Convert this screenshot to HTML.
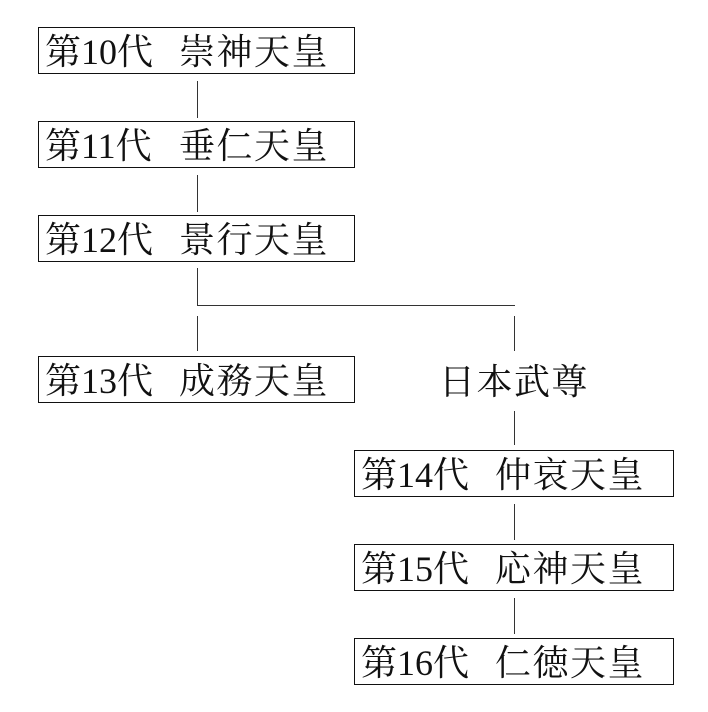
<html><head><style>
body{margin:0;width:708px;height:712px;background:#fff;position:relative;overflow:hidden;font-family:"Liberation Serif","Noto Serif CJK SC","Noto Serif CJK JP",serif;color:#111}
.b{position:absolute;width:315px;height:45px;border:1px solid #111;box-sizing:content-box}
.b span{position:absolute;top:4px;font-size:36px;line-height:40px;white-space:nowrap}
.a{left:6px}.n{left:140px;letter-spacing:1.5px}
.v{position:absolute;width:1px;background:#333}
.h{position:absolute;height:1px;background:#333}
</style></head><body>
<div class="b" style="left:38px;top:27px"><span class="a">第10代</span><span class="n">崇神天皇</span></div>
<div class="b" style="left:38px;top:121px"><span class="a">第11代</span><span class="n">垂仁天皇</span></div>
<div class="b" style="left:38px;top:215px"><span class="a">第12代</span><span class="n">景行天皇</span></div>
<div class="b" style="left:38px;top:356px"><span class="a">第13代</span><span class="n">成務天皇</span></div>
<div class="b" style="left:354px;top:450px;width:318px"><span class="a">第14代</span><span class="n">仲哀天皇</span></div>
<div class="b" style="left:354px;top:544px;width:318px"><span class="a">第15代</span><span class="n">応神天皇</span></div>
<div class="b" style="left:354px;top:638px;width:318px"><span class="a">第16代</span><span class="n">仁徳天皇</span></div>
<div style="position:absolute;left:434px;top:362px;width:160px;text-align:center;font-size:36px;line-height:40px;letter-spacing:1.5px">日本武尊</div>
<div class="v" style="left:197px;top:81px;height:37px"></div>
<div class="v" style="left:197px;top:175px;height:37px"></div>
<div class="v" style="left:197px;top:268px;height:37px"></div>
<div class="h" style="left:197px;top:305px;width:318px"></div>
<div class="v" style="left:197px;top:316px;height:35px"></div>
<div class="v" style="left:514px;top:316px;height:35px"></div>
<div class="v" style="left:514px;top:411px;height:34px"></div>
<div class="v" style="left:514px;top:504px;height:36px"></div>
<div class="v" style="left:514px;top:598px;height:36px"></div>
</body></html>
